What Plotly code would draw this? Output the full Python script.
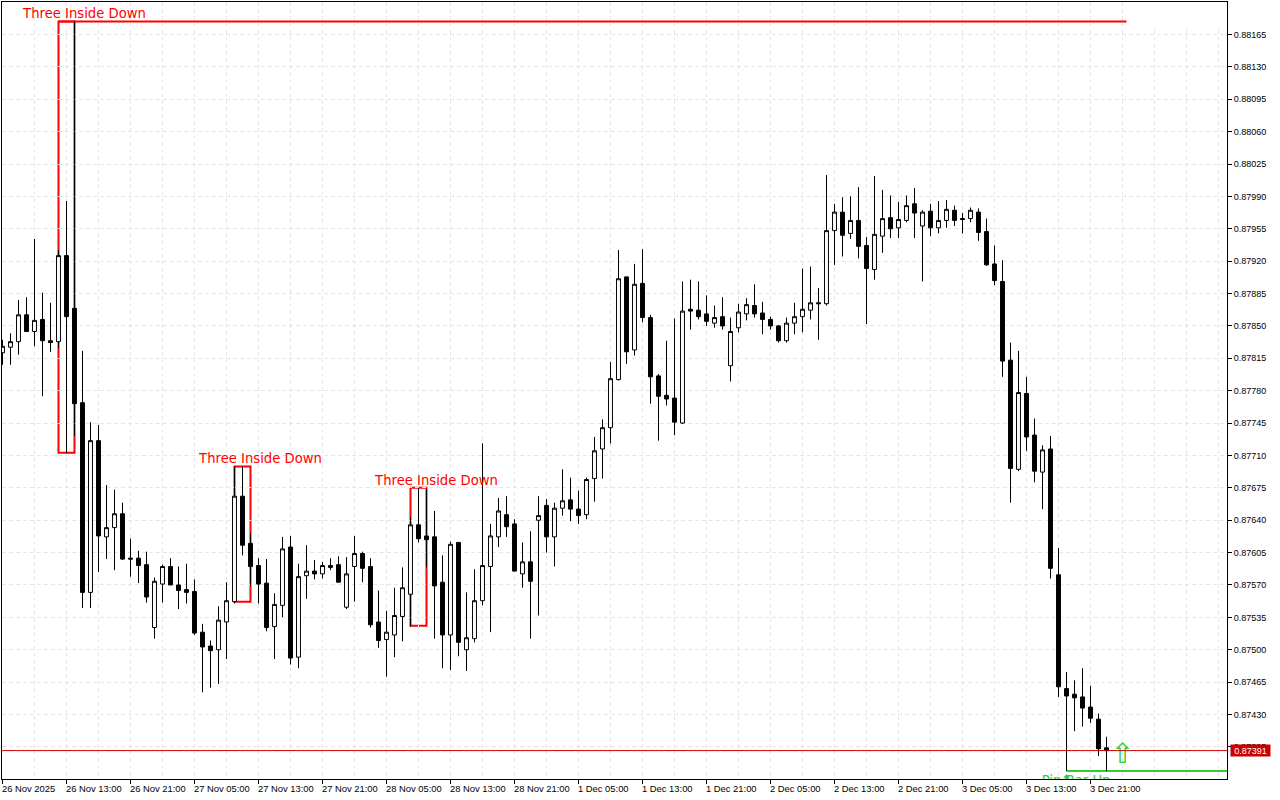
import plotly.graph_objects as go

# H1 bars, index on x so the weekend gap disappears like in the terminal
opens = [0.87821,0.87827,0.87833,0.87862,0.87844,0.87857,0.87834,0.87833,0.87926,0.87869,
         0.87767,0.87562,0.87726,0.87622,0.87632,0.87647,0.87599,0.87599,0.87592,0.87524,
         0.87571,0.87590,0.87570,0.87565,0.87563,0.87519,0.87504,0.87500,0.87530,0.87552,
         0.87666,0.87615,0.87591,0.87572,0.87525,0.87548,0.87611,0.87492,0.87580,0.87585,
         0.87582,0.87591,0.87592,0.87546,0.87590,0.87604,0.87590,0.87530,0.87511,0.87516,
         0.87536,0.87560,0.87635,0.87623,0.87622,0.87573,0.87516,0.87616,0.87500,0.87512,
         0.87553,0.87590,0.87622,0.87646,0.87636,0.87582,0.87595,0.87640,0.87656,0.87622,
         0.87653,0.87662,0.87652,0.87646,0.87685,0.87717,0.87740,0.87792,0.87903,0.87824,
         0.87896,0.87859,0.87796,0.87775,0.87772,0.87745,0.87868,0.87867,0.87863,0.87853,
         0.87860,0.87807,0.87848,0.87863,0.87872,0.87864,0.87857,0.87850,0.87834,0.87853,
         0.87860,0.87867,0.87875,0.87874,0.87953,0.87973,0.87950,0.87964,0.87937,0.87911,
         0.87947,0.87967,0.87956,0.87964,0.87982,0.87958,0.87974,0.87956,0.87964,0.87975,
         0.87966,0.87966,0.87973,0.87952,0.87917,0.87898,0.87813,0.87695,0.87777,0.87732,
         0.87692,0.87717,0.87581,0.87458,0.87452,0.87449,0.87438,0.87425,0.87394]
highs = [0.87835,0.87842,0.87878,0.87881,0.87944,0.87886,0.87875,0.87932,0.87985,0.88179,
         0.87823,0.87746,0.87743,0.87678,0.87673,0.87659,0.87620,0.87607,0.87606,0.87578,
         0.87592,0.87599,0.87590,0.87593,0.87576,0.87528,0.87510,0.87547,0.87573,0.87698,
         0.87698,0.87626,0.87599,0.87598,0.87561,0.87622,0.87623,0.87593,0.87613,0.87597,
         0.87595,0.87599,0.87601,0.87600,0.87623,0.87606,0.87599,0.87564,0.87542,0.87567,
         0.87589,0.87643,0.87675,0.87674,0.87650,0.87602,0.87617,0.87616,0.87562,0.87587,
         0.87723,0.87636,0.87664,0.87666,0.87641,0.87616,0.87628,0.87666,0.87663,0.87659,
         0.87695,0.87686,0.87672,0.87686,0.87730,0.87749,0.87811,0.87932,0.87903,0.87917,
         0.87933,0.87862,0.87798,0.87834,0.87858,0.87898,0.87900,0.87898,0.87883,0.87872,
         0.87881,0.87859,0.87874,0.87880,0.87895,0.87876,0.87860,0.87851,0.87859,0.87875,
         0.87912,0.87914,0.87891,0.88013,0.87982,0.87989,0.87990,0.88000,0.87946,0.88012,
         0.87997,0.87991,0.87984,0.87991,0.87999,0.87975,0.87982,0.87985,0.87986,0.87980,
         0.87972,0.87978,0.87977,0.87966,0.87937,0.87921,0.87832,0.87823,0.87795,0.87750,
         0.87721,0.87731,0.87610,0.87476,0.87467,0.87480,0.87461,0.87431,0.87406]
lows = [0.87808,0.87808,0.87819,0.87844,0.87828,0.87774,0.87822,0.87826,0.87712,0.87731,
        0.87545,0.87545,0.87584,0.87598,0.87586,0.87597,0.87579,0.87572,0.87551,0.87512,
        0.87551,0.87570,0.87544,0.87550,0.87516,0.87454,0.87459,0.87463,0.87490,0.87550,
        0.87602,0.87569,0.87550,0.87520,0.87490,0.87535,0.87484,0.87480,0.87555,0.87576,
        0.87577,0.87586,0.87573,0.87544,0.87552,0.87573,0.87524,0.87502,0.87471,0.87492,
        0.87509,0.87525,0.87616,0.87589,0.87512,0.87480,0.87478,0.87493,0.87477,0.87508,
        0.87548,0.87519,0.87611,0.87622,0.87585,0.87567,0.87512,0.87537,0.87605,0.87590,
        0.87645,0.87639,0.87636,0.87641,0.87660,0.87685,0.87723,0.87791,0.87809,0.87818,
        0.87854,0.87766,0.87726,0.87764,0.87732,0.87744,0.87846,0.87857,0.87850,0.87848,
        0.87846,0.87790,0.87843,0.87856,0.87859,0.87841,0.87846,0.87832,0.87832,0.87841,
        0.87843,0.87857,0.87835,0.87872,0.87916,0.87925,0.87944,0.87923,0.87852,0.87900,
        0.87929,0.87945,0.87945,0.87962,0.87945,0.87898,0.87947,0.87950,0.87956,0.87958,
        0.87950,0.87962,0.87942,0.87915,0.87894,0.87795,0.87659,0.87693,0.87715,0.87681,
        0.87652,0.87577,0.87449,0.87369,0.87412,0.87417,0.87421,0.87385,0.87369]
closes = [0.87828,0.87833,0.87862,0.87844,0.87856,0.87834,0.87832,0.87926,0.87860,0.87766,
          0.87562,0.87726,0.87623,0.87632,0.87647,0.87598,0.87598,0.87591,0.87557,0.87574,
          0.87590,0.87570,0.87564,0.87562,0.87518,0.87503,0.87499,0.87532,0.87553,0.87666,
          0.87613,0.87590,0.87571,0.87524,0.87549,0.87609,0.87491,0.87579,0.87585,0.87582,
          0.87591,0.87589,0.87573,0.87582,0.87604,0.87588,0.87527,0.87510,0.87519,0.87537,
          0.87567,0.87635,0.87620,0.87619,0.87569,0.87516,0.87614,0.87508,0.87513,0.87553,
          0.87591,0.87623,0.87650,0.87633,0.87585,0.87595,0.87574,0.87645,0.87622,0.87653,
          0.87661,0.87652,0.87645,0.87684,0.87715,0.87740,0.87793,0.87901,0.87822,0.87895,
          0.87859,0.87795,0.87774,0.87771,0.87746,0.87866,0.87866,0.87860,0.87855,0.87859,
          0.87850,0.87844,0.87865,0.87873,0.87863,0.87857,0.87850,0.87834,0.87853,0.87860,
          0.87868,0.87875,0.87874,0.87953,0.87973,0.87948,0.87964,0.87936,0.87912,0.87949,
          0.87966,0.87955,0.87965,0.87980,0.87972,0.87973,0.87956,0.87964,0.87976,0.87964,
          0.87965,0.87975,0.87951,0.87916,0.87899,0.87812,0.87696,0.87778,0.87730,0.87693,
          0.87716,0.87588,0.87460,0.87450,0.87448,0.87437,0.87426,0.87393,0.87391]
bars = list(range(len(closes)))

time_ticks = list(range(0, 137, 8))
time_labels = ["26 Nov 2025", "26 Nov 13:00", "26 Nov 21:00", "27 Nov 05:00", "27 Nov 13:00", "27 Nov 21:00",
               "28 Nov 05:00", "28 Nov 13:00", "28 Nov 21:00", "1 Dec 05:00", "1 Dec 13:00", "1 Dec 21:00",
               "2 Dec 05:00", "2 Dec 13:00", "2 Dec 21:00", "3 Dec 05:00", "3 Dec 13:00", "3 Dec 21:00"]
grid_bars = list(range(4, 153, 4))
price_ticks = [0.88165, 0.88130, 0.88095, 0.88060, 0.88025, 0.87990, 0.87955, 0.87920, 0.87885, 0.87850,
               0.87815, 0.87780, 0.87745, 0.87710, 0.87675, 0.87640, 0.87605, 0.87570, 0.87535, 0.87500,
               0.87465, 0.87430, 0.87395]

# pattern boxes
box_left = [7, 29, 51]
box_right = [9, 31, 53]
box_top = [0.88179, 0.87698, 0.87675]
box_bottom = [0.87713, 0.87552, 0.87526]
top_line_end = 140.5
pattern_x = [10.25, 32.25, 54.25]
pattern_y = [0.88186, 0.87705, 0.87682]
pattern_names = ["Three Inside Down", "Three Inside Down", "Three Inside Down"]

last_price = 0.87391
pin_bar = 133
pin_level = 0.87369
pin_label_x = 134.2
pin_label_y = 0.87357
pin_arrow_y = 0.87358
signal_x = 140
signal_y = 0.87385

RED = "#ff0000"
GREEN = "#32cd32"
GRID = "#e6e6e6"

candles = go.Candlestick(x=bars, open=opens, high=highs, low=lows, close=closes,
                         increasing=dict(line=dict(color="black", width=1), fillcolor="white"),
                         decreasing=dict(line=dict(color="black", width=1), fillcolor="black"),
                         whiskerwidth=0, showlegend=False)

pattern_text = go.Scatter(x=pattern_x, y=pattern_y, text=pattern_names, mode="text",
                          textposition="middle center",
                          textfont=dict(family="DejaVu Sans", size=13.2, color=RED), showlegend=False)
pin_text = go.Scatter(x=[pin_label_x], y=[pin_label_y], text=["Pin Bar Up"], mode="text",
                      textposition="middle center",
                      textfont=dict(family="DejaVu Sans", size=13.2, color=GREEN), showlegend=False)
pin_arrow = go.Scatter(x=[pin_bar], y=[pin_arrow_y], text=["\u2b06"], mode="text",
                       textposition="middle center",
                       textfont=dict(family="DejaVu Sans", size=13, color=GREEN), showlegend=False)
signal = go.Scatter(x=[signal_x], y=[signal_y], text=["\u21e7"], mode="text",
                    textposition="middle center",
                    textfont=dict(family="DejaVu Sans", size=28, color=GREEN), showlegend=False)

shapes = []
for x0, x1, top, bottom in zip(box_left, box_right, box_top, box_bottom):
    shapes.append(dict(type="rect", xref="x", yref="y", x0=x0, x1=x1, y0=bottom, y1=top,
                       line=dict(color=RED, width=2), layer="below"))
shapes.append(dict(type="line", xref="x", yref="y", x0=box_left[0], x1=top_line_end,
                   y0=box_top[0], y1=box_top[0], line=dict(color=RED, width=2), layer="below"))
shapes.append(dict(type="line", xref="x", yref="y", x0=pin_bar, x1=153.06,
                   y0=pin_level, y1=pin_level, line=dict(color=GREEN, width=2), layer="below"))
shapes.append(dict(type="line", xref="paper", yref="y", x0=0, x1=1,
                   y0=last_price, y1=last_price, line=dict(color="#cc0000", width=1), layer="above"))
# the terminal leaves the vertical grid out in the top right corner
shapes.append(dict(type="rect", xref="x", yref="y", x0=141, x1=153.06, y0=0.88174, y1=0.88200,
                   fillcolor="white", line=dict(width=0), layer="between"))

# time labels start at their tick instead of being centred on it
notes = []
for tick, label in zip(time_ticks, time_labels):
    notes.append(dict(xref="x", yref="paper", x=tick, y=0, xanchor="left", yanchor="top", yshift=-3, xshift=-2,
                      text=label, showarrow=False, borderpad=0,
                      font=dict(family="Liberation Sans", size=9.4, color="black")))
notes.append(dict(xref="paper", yref="y", x=1.0024, y=last_price, xanchor="left", yanchor="middle",
                  text="%.5f" % last_price, showarrow=False, bgcolor="#cc0000",
                  font=dict(family="Liberation Sans", size=9, color="white"),
                  width=39, height=11, borderpad=0, align="center"))

layout = go.Layout(width=1280, height=800, autosize=False,
                   margin=dict(l=2, r=53, t=2, b=21, pad=0),
                   paper_bgcolor="white", plot_bgcolor="white", showlegend=False,
                   xaxis=dict(range=[-0.0625, 153.0625], rangeslider=dict(visible=False),
                              tickmode="array", tickvals=time_ticks, showticklabels=False,
                              ticks="outside", ticklen=4, tickcolor="black",
                              showgrid=False, zeroline=False,
                              showline=True, linecolor="black", linewidth=1, mirror=True,
                              minor=dict(tickmode="array", tickvals=grid_bars, showgrid=True, gridcolor=GRID,
                                         griddash="4px,3px", gridwidth=1, ticklen=0)),
                   yaxis=dict(range=[0.873603, 0.882001], side="right",
                              tickmode="array", tickvals=price_ticks, ticktext=["%.5f" % p for p in price_ticks],
                              ticks="outside", ticklen=4, tickcolor="black",
                              tickfont=dict(family="Liberation Sans", size=9, color="black"),
                              showgrid=True, gridcolor=GRID, griddash="4px,3px", gridwidth=1, zeroline=False,
                              showline=True, linecolor="black", linewidth=1, mirror=True),
                   shapes=shapes, annotations=notes)

fig = go.Figure(data=[candles, pattern_text, pin_text, pin_arrow, signal], layout=layout)
fig.write_html("out.html", config=dict(displayModeBar=False),
               post_script="document.body.style.margin='0';document.body.style.overflow='hidden';")
